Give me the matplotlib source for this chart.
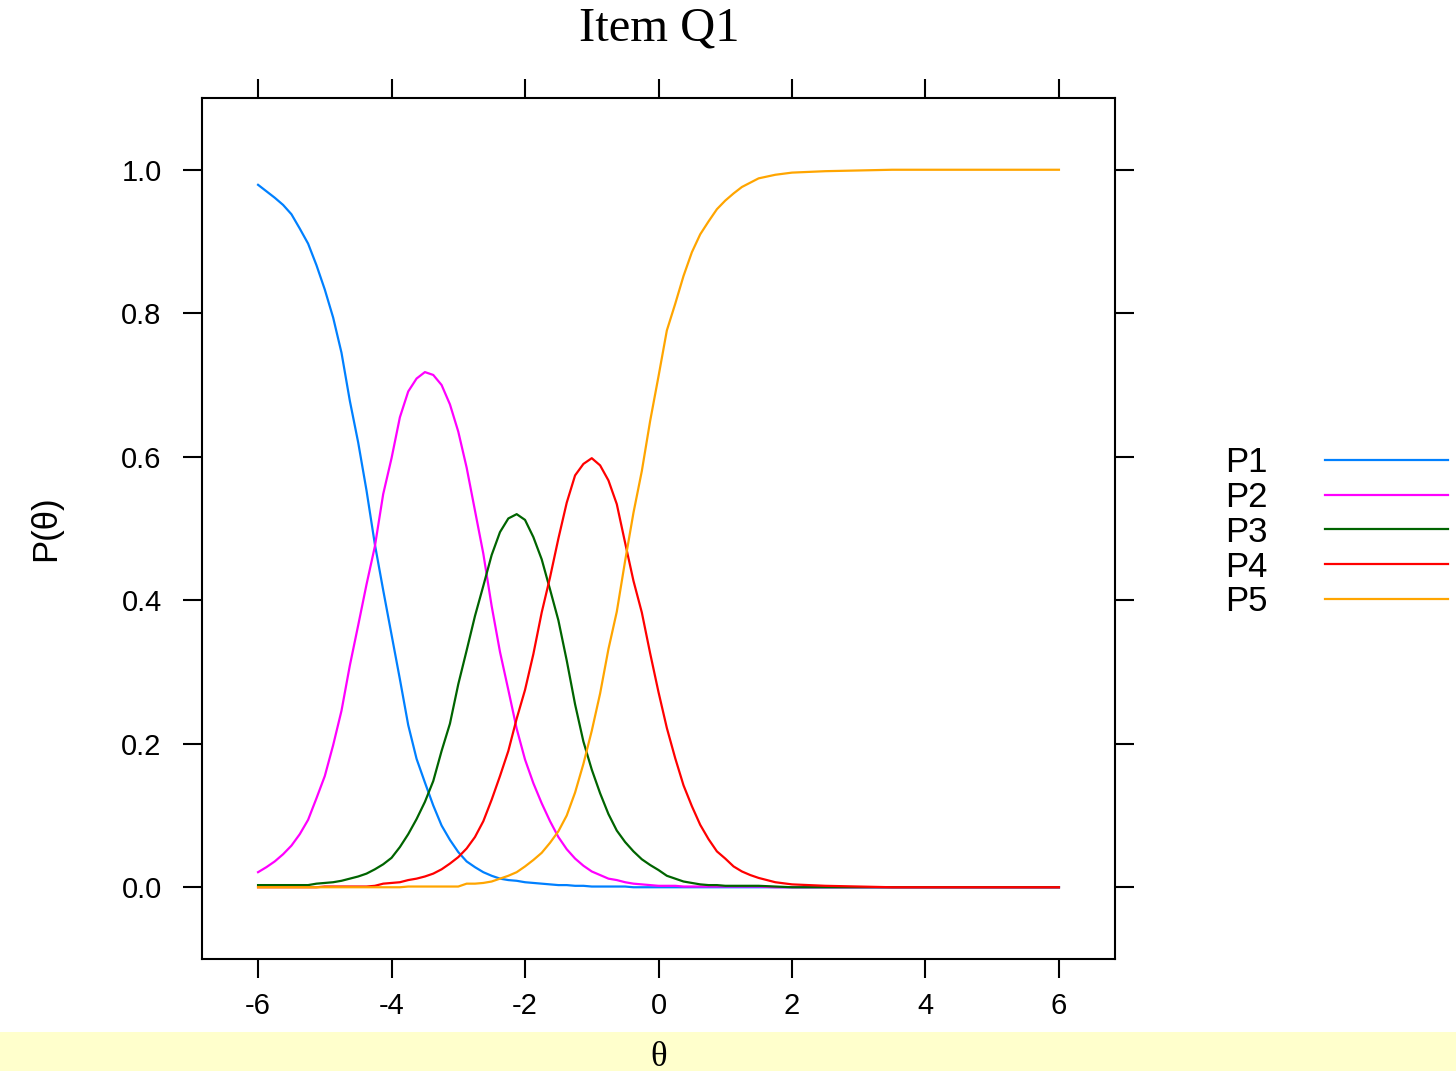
import matplotlib.pyplot as plt
from matplotlib.lines import Line2D
from matplotlib.patches import Rectangle

# --- data (fine grid where the curves move) ---
theta = [-6.0, -5.875, -5.75, -5.625, -5.5, -5.375, -5.25, -5.125,
         -5.0, -4.875, -4.75, -4.625, -4.5, -4.375, -4.25, -4.125,
         -4.0, -3.875, -3.75, -3.625, -3.5, -3.375, -3.25, -3.125,
         -3.0, -2.875, -2.75, -2.625, -2.5, -2.375, -2.25, -2.125,
         -2.0, -1.875, -1.75, -1.625, -1.5, -1.375, -1.25, -1.125,
         -1.0, -0.875, -0.75, -0.625, -0.5, -0.375, -0.25, -0.125,
         0.0, 0.125, 0.25, 0.375, 0.5, 0.625, 0.75, 0.875,
         1.0, 1.125, 1.25, 1.375, 1.5,
         1.75, 2.0, 2.5, 3.0, 3.5, 4.0, 4.5, 5.0, 5.5, 6.0]

p1 = [0.979, 0.970, 0.961, 0.951, 0.938, 0.918, 0.897, 0.867,
      0.833, 0.794, 0.745, 0.678, 0.620, 0.553, 0.478, 0.414,
      0.352, 0.290, 0.226, 0.179, 0.146, 0.114, 0.086, 0.066,
      0.049, 0.036, 0.028, 0.021, 0.016, 0.012, 0.010, 0.009,
      0.007, 0.006, 0.005, 0.004, 0.003, 0.003, 0.002, 0.002,
      0.001, 0.001, 0.001, 0.001, 0.001, 0.000, 0.000, 0.000,
      0.000, 0.000, 0.000, 0.000, 0.000, 0.000, 0.000, 0.000,
      0.000, 0.000, 0.000, 0.000, 0.000,
      0.000, 0.000, 0.000, 0.000, 0.000, 0.000, 0.000, 0.000, 0.000, 0.000]
p2 = [0.021, 0.028, 0.036, 0.046, 0.058, 0.074, 0.094, 0.124,
      0.155, 0.198, 0.246, 0.309, 0.365, 0.422, 0.475, 0.548,
      0.598, 0.655, 0.691, 0.709, 0.718, 0.714, 0.700, 0.673,
      0.635, 0.585, 0.525, 0.465, 0.392, 0.328, 0.275, 0.221,
      0.178, 0.145, 0.117, 0.092, 0.070, 0.053, 0.040, 0.030,
      0.022, 0.017, 0.012, 0.010, 0.007, 0.005, 0.004, 0.003,
      0.002, 0.002, 0.002, 0.001, 0.001, 0.001, 0.001, 0.001,
      0.001, 0.001, 0.001, 0.001, 0.001,
      0.000, 0.000, 0.000, 0.000, 0.000, 0.000, 0.000, 0.000, 0.000, 0.000]
p3 = [0.003, 0.003, 0.003, 0.003, 0.003, 0.003, 0.003, 0.005,
      0.006, 0.007, 0.009, 0.012, 0.015, 0.019, 0.025, 0.032,
      0.041, 0.056, 0.074, 0.095, 0.119, 0.148, 0.190, 0.228,
      0.283, 0.330, 0.378, 0.420, 0.463, 0.495, 0.514, 0.520,
      0.512, 0.488, 0.457, 0.415, 0.372, 0.316, 0.255, 0.203,
      0.164, 0.131, 0.102, 0.079, 0.063, 0.050, 0.039, 0.031,
      0.024, 0.016, 0.012, 0.008, 0.006, 0.004, 0.003, 0.003,
      0.002, 0.002, 0.002, 0.002, 0.002,
      0.001, 0.000, 0.000, 0.000, 0.000, 0.000, 0.000, 0.000, 0.000, 0.000]
p4 = [0.000, 0.000, 0.000, 0.000, 0.000, 0.000, 0.000, 0.000,
      0.001, 0.001, 0.001, 0.001, 0.001, 0.001, 0.002, 0.005,
      0.006, 0.007, 0.010, 0.012, 0.015, 0.019, 0.025, 0.033,
      0.042, 0.054, 0.070, 0.092, 0.122, 0.155, 0.190, 0.235,
      0.275, 0.325, 0.383, 0.432, 0.486, 0.536, 0.574, 0.590,
      0.598, 0.588, 0.567, 0.534, 0.480, 0.427, 0.383, 0.326,
      0.272, 0.222, 0.180, 0.142, 0.113, 0.087, 0.067, 0.050,
      0.040, 0.029, 0.022, 0.017, 0.013,
      0.007, 0.004, 0.002, 0.001, 0.000, 0.000, 0.000, 0.000, 0.000, 0.000]
p5 = [0.000, 0.000, 0.000, 0.000, 0.000, 0.000, 0.000, 0.000,
      0.000, 0.000, 0.000, 0.000, 0.000, 0.000, 0.000, 0.000,
      0.000, 0.000, 0.001, 0.001, 0.001, 0.001, 0.001, 0.001,
      0.001, 0.005, 0.005, 0.006, 0.008, 0.012, 0.016, 0.021,
      0.029, 0.038, 0.048, 0.062, 0.078, 0.100, 0.132, 0.172,
      0.218, 0.270, 0.332, 0.384, 0.455, 0.522, 0.580, 0.650,
      0.712, 0.776, 0.813, 0.852, 0.885, 0.910, 0.928, 0.945,
      0.957, 0.967, 0.976, 0.982, 0.988,
      0.993, 0.996, 0.998, 0.999, 1.000, 1.000, 1.000, 1.000, 1.000, 1.000]

series = [p1, p2, p3, p4, p5]
labels = ['P1', 'P2', 'P3', 'P4', 'P5']
colors = ['#0080FF', '#FF00FF', '#006400', '#FF0000', '#FFA500']
xticks = [-6, -4, -2, 0, 2, 4, 6]
yticks = [0.0, 0.2, 0.4, 0.6, 0.8, 1.0]

# --- figure ---
fig = plt.figure(figsize=(14.56, 10.71), dpi=100)
W, H = 1456, 1071

# pale strip behind the x label
fig.patches.append(Rectangle((0, 0), 1, (H - 1032) / H, transform=fig.transFigure,
                             facecolor='#FFFFCC', edgecolor='none', zorder=0))

ax = fig.add_axes([202 / W, 1 - 959 / H, (1115 - 202) / W, (959 - 98) / H])
for s, c in zip(series, colors):
    ax.plot(theta, s, color=c, lw=1.6)

ax.set_xlim(-6.84, 6.84)
ax.set_ylim(-0.1, 1.1)
ax.set_xticks(xticks)
ax.set_xticklabels([str(t) for t in xticks])
ax.set_yticks(yticks)
ax.set_yticklabels([f'{t:.1f}' for t in yticks])
for sp in ax.spines.values():
    sp.set_linewidth(1.5)
ax.tick_params(direction='out', length=14, width=1.5, top=True, right=True,
               labeltop=False, labelright=False, labelsize=21)
ax.tick_params(axis='x', pad=10)
ax.tick_params(axis='y', pad=15)
for lab in ax.get_xticklabels() + ax.get_yticklabels():
    lab.set_family('Liberation Sans')

fig.text(659 / W, 1 - 28 / H, 'Item Q1', ha='center', va='center',
         family='Liberation Serif', fontsize=35)
fig.text(46 / W, 1 - 528 / H, 'P(θ)', ha='center', va='center', rotation=90,
         family='Liberation Sans', fontsize=25)
fig.text(659 / W, 1 - 1057 / H, 'θ', ha='center', va='center',
         family='Liberation Serif', fontsize=25)

# legend on the right, drawn by hand like lattice's key
for i, (lab, c) in enumerate(zip(labels, colors)):
    yy = 1 - (460 + i * 34.7) / H
    fig.text(1225 / W, yy - 3 / H, lab, ha='left', va='center',
             family='Liberation Sans', fontsize=25)
    fig.add_artist(Line2D([1325 / W, 1448 / W], [yy, yy], color=c, lw=1.6,
                          transform=fig.transFigure))

fig.savefig('out.png', dpi=100)
